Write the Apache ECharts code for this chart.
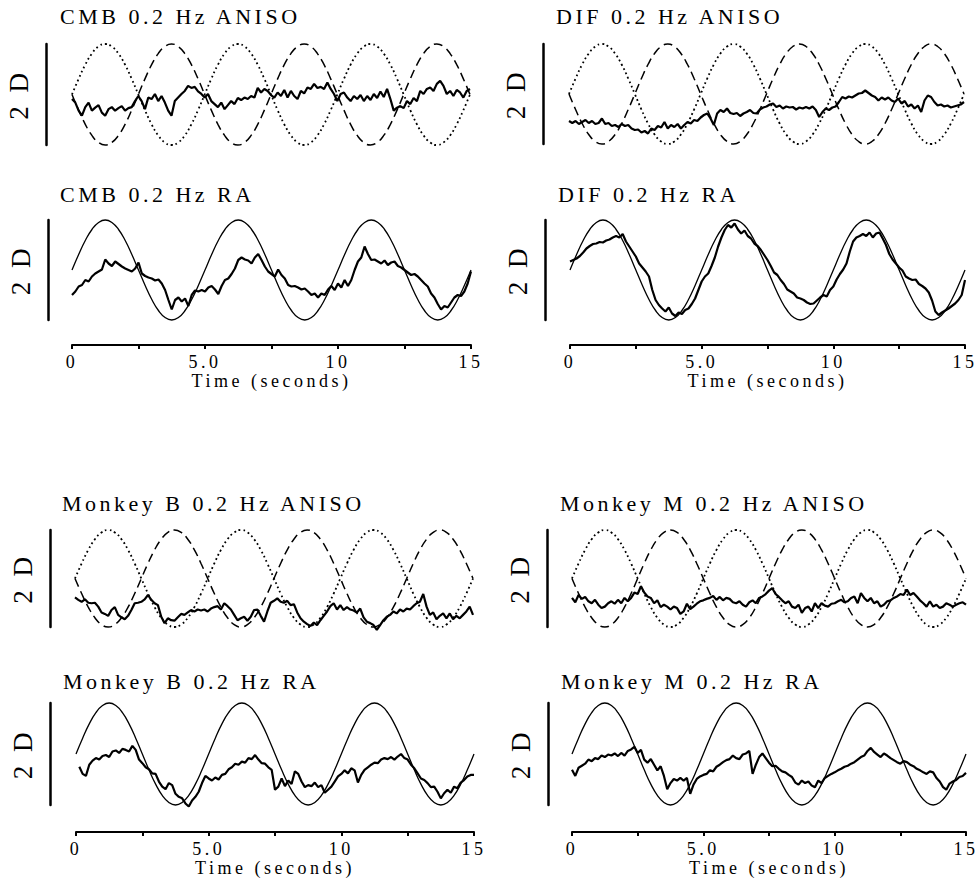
<!DOCTYPE html>
<html>
<head>
<meta charset="utf-8">
<title>0.2 Hz ANISO / RA</title>
<script src="https://cdn.jsdelivr.net/npm/echarts@6/dist/echarts.min.js"></script>
<style>
  html, body { margin: 0; padding: 0; background: #fff; }
  #main { width: 976px; height: 882px; }
  /* the figure uses widely spaced serif lettering */
  #main text { letter-spacing: 3.5px; }
</style>
</head>
<body>
<div id="main"></div>
<script type="text/javascript">
// sample spacing in seconds
var STIM_STEP = 0.25;
var TRACE_STEP = 0.125;

// labels for the ticks at 0, 2.5, 5 ... 15 s
var xTickLabels = ['0', '', '5.0', '', '10', '', '15'];

// stimulus, diopters (+-1 D), read every 0.25 s
var stimulus = [
  0, 0.31, 0.59, 0.81, 0.95, 1, 0.95, 0.81, 0.59, 0.31, 0, -0.31, -0.59, -0.81, -0.95, -1, -0.95, -0.81, -0.59, -0.31,
  0, 0.31, 0.59, 0.81, 0.95, 1, 0.95, 0.81, 0.59, 0.31, 0, -0.31, -0.59, -0.81, -0.95, -1, -0.95, -0.81, -0.59, -0.31,
  0, 0.31, 0.59, 0.81, 0.95, 1, 0.95, 0.81, 0.59, 0.31, 0, -0.31, -0.59, -0.81, -0.95, -1, -0.95, -0.81, -0.59, -0.31, 0
];
// the counter-phase stimulus of the ANISO condition (dashed)
var stimulusAnti = [
  0, -0.31, -0.59, -0.81, -0.95, -1, -0.95, -0.81, -0.59, -0.31, 0, 0.31, 0.59, 0.81, 0.95, 1, 0.95, 0.81, 0.59, 0.31,
  0, -0.31, -0.59, -0.81, -0.95, -1, -0.95, -0.81, -0.59, -0.31, 0, 0.31, 0.59, 0.81, 0.95, 1, 0.95, 0.81, 0.59, 0.31,
  0, -0.31, -0.59, -0.81, -0.95, -1, -0.95, -0.81, -0.59, -0.31, 0, 0.31, 0.59, 0.81, 0.95, 1, 0.95, 0.81, 0.59, 0.31, 0
];

// responses, diopters, read every 0.125 s
var cmbAniso = [
  -0.09, -0.16, -0.32, -0.42, -0.25, -0.16, -0.32, -0.26, -0.21, -0.36,
  -0.42, -0.29, -0.25, -0.32, -0.27, -0.23, -0.32, -0.27, -0.25, -0.13,
  -0.03, -0.13, -0.29, -0.06, -0.09, 0.01, -0.13, -0.03, -0.16, -0.32,
  -0.42, -0.13, -0.06, 0.01, 0.07, 0.17, 0.13, 0.15, 0.06, 0.01,
  -0.06, 0.01, -0.13, -0.19, -0.25, -0.16, -0.29, -0.21, -0.13, -0.19,
  -0.07, -0.11, -0.06, -0.09, -0.03, -0.06, 0.13, 0.04, 0.11, 0.07,
  -0.01, -0.06, 0.04, -0.03, 0.09, -0.06, 0.07, -0.03, -0.09, 0.07,
  0.02, 0.14, 0.11, 0.21, 0.13, 0.15, 0.11, 0.24, 0.11, 0.01,
  -0.13, 0.01, 0.04, -0.06, -0.13, -0.03, -0.09, -0.01, -0.13, -0.03,
  -0.11, 0.01, -0.07, 0.06, -0.05, 0.11, -0.09, -0.32, -0.26, -0.23,
  -0.27, -0.13, -0.19, -0.07, -0.13, 0.07, 0.01, 0.11, 0.14, 0.07,
  0.21, 0.27, 0.17, 0.01, 0.07, -0.03, 0.09, 0.04, -0.06, 0.07, 0.11
];
var cmbRa = [
  -0.50, -0.43, -0.33, -0.30, -0.20, -0.23, -0.13, -0.07, -0.03, 0.01,
  0.21, 0.13, 0.08, 0.17, 0.12, 0.07, 0.03, 0.00, -0.03, 0.03,
  0.15, -0.07, -0.12, -0.15, -0.17, -0.21, -0.19, -0.27, -0.40, -0.60,
  -0.79, -0.60, -0.55, -0.63, -0.57, -0.72, -0.50, -0.41, -0.43, -0.40,
  -0.43, -0.35, -0.32, -0.39, -0.48, -0.32, -0.20, -0.17, -0.08, 0.03,
  0.20, 0.25, 0.21, 0.19, 0.13, 0.25, 0.32, 0.20, 0.07, -0.03,
  -0.08, -0.13, 0.01, -0.10, -0.17, -0.30, -0.33, -0.32, -0.35, -0.39,
  -0.37, -0.43, -0.50, -0.47, -0.55, -0.47, -0.50, -0.39, -0.32, -0.40,
  -0.27, -0.35, -0.20, -0.32, -0.20, 0.00, 0.17, 0.25, 0.47, 0.32,
  0.20, 0.21, 0.17, 0.13, 0.19, 0.10, 0.15, 0.17, 0.08, 0.05,
  0.00, -0.05, -0.10, -0.08, -0.13, -0.20, -0.27, -0.33, -0.47, -0.55,
  -0.68, -0.79, -0.72, -0.75, -0.65, -0.55, -0.50, -0.52, -0.43, -0.27, -0.03
];
var difAniso = [
  -0.54, -0.58, -0.54, -0.60, -0.56, -0.52, -0.58, -0.54, -0.60, -0.58,
  -0.49, -0.60, -0.58, -0.64, -0.62, -0.66, -0.60, -0.64, -0.62, -0.69,
  -0.72, -0.71, -0.77, -0.74, -0.79, -0.69, -0.72, -0.64, -0.67, -0.56,
  -0.69, -0.62, -0.66, -0.60, -0.69, -0.62, -0.56, -0.59, -0.52, -0.54,
  -0.47, -0.42, -0.39, -0.49, -0.62, -0.39, -0.32, -0.36, -0.29, -0.38,
  -0.40, -0.38, -0.44, -0.39, -0.36, -0.32, -0.38, -0.39, -0.31, -0.27,
  -0.25, -0.21, -0.19, -0.26, -0.23, -0.29, -0.25, -0.27, -0.26, -0.31,
  -0.27, -0.29, -0.26, -0.29, -0.25, -0.32, -0.46, -0.36, -0.29, -0.32,
  -0.27, -0.25, -0.16, -0.06, -0.09, -0.05, -0.07, -0.03, 0.01, 0.02,
  0.07, 0.02, -0.03, -0.06, -0.13, -0.07, -0.11, -0.07, -0.13, -0.16,
  -0.09, -0.19, -0.14, -0.25, -0.21, -0.29, -0.23, -0.36, -0.13, -0.03,
  -0.06, -0.16, -0.23, -0.21, -0.25, -0.23, -0.27, -0.25, -0.23, -0.21, -0.16
];
var difRa = [
  0.17, 0.20, 0.23, 0.28, 0.35, 0.43, 0.48, 0.52, 0.53, 0.56,
  0.55, 0.59, 0.61, 0.65, 0.68, 0.65, 0.72, 0.57, 0.47, 0.37,
  0.27, 0.13, 0.05, -0.03, -0.13, -0.40, -0.60, -0.70, -0.77, -0.83,
  -0.75, -0.87, -0.92, -0.85, -0.88, -0.80, -0.77, -0.68, -0.57, -0.40,
  -0.23, -0.13, -0.07, 0.08, 0.25, 0.47, 0.65, 0.80, 0.90, 0.85,
  0.93, 0.81, 0.73, 0.79, 0.68, 0.63, 0.53, 0.48, 0.40, 0.30,
  0.20, 0.08, -0.05, -0.10, -0.20, -0.28, -0.39, -0.43, -0.47, -0.55,
  -0.57, -0.60, -0.65, -0.68, -0.67, -0.61, -0.55, -0.50, -0.53, -0.40,
  -0.33, -0.19, -0.08, 0.01, 0.13, 0.37, 0.57, 0.65, 0.68, 0.72,
  0.68, 0.75, 0.65, 0.73, 0.75, 0.63, 0.50, 0.32, 0.21, 0.13,
  0.05, -0.01, -0.13, -0.17, -0.20, -0.19, -0.28, -0.32, -0.37, -0.45,
  -0.61, -0.83, -0.90, -0.85, -0.81, -0.77, -0.72, -0.67, -0.60, -0.50, -0.20
];
var monkeyBAniso = [
  -0.39, -0.44, -0.48, -0.43, -0.50, -0.51, -0.50, -0.58, -0.70, -0.73,
  -0.77, -0.65, -0.59, -0.75, -0.80, -0.84, -0.77, -0.65, -0.51, -0.50,
  -0.48, -0.43, -0.34, -0.44, -0.51, -0.55, -0.79, -0.92, -0.82, -0.86,
  -0.87, -0.80, -0.73, -0.75, -0.70, -0.65, -0.68, -0.64, -0.66, -0.64,
  -0.68, -0.62, -0.59, -0.57, -0.64, -0.51, -0.57, -0.64, -0.75, -0.86,
  -0.82, -0.79, -0.87, -0.79, -0.65, -0.64, -0.77, -0.89, -0.68, -0.50,
  -0.46, -0.41, -0.48, -0.50, -0.46, -0.55, -0.53, -0.70, -0.82, -0.89,
  -0.94, -0.98, -0.91, -0.96, -0.86, -0.77, -0.68, -0.57, -0.51, -0.64,
  -0.55, -0.65, -0.59, -0.64, -0.66, -0.70, -0.62, -0.80, -0.89, -0.92,
  -0.96, -1.06, -0.96, -0.86, -0.79, -0.75, -0.68, -0.72, -0.64, -0.68,
  -0.62, -0.64, -0.57, -0.51, -0.48, -0.32, -0.58, -0.75, -0.70, -0.84,
  -0.77, -0.72, -0.82, -0.72, -0.84, -0.77, -0.82, -0.75, -0.68, -0.58, -0.75
];
var monkeyBRa = [
  null, -0.25, -0.39, -0.43, -0.21, -0.13, -0.08, -0.11, -0.04, -0.02,
  -0.06, 0.05, 0.07, 0.02, 0.10, 0.08, 0.05, 0.16, 0.08, -0.11,
  -0.18, -0.26, -0.30, -0.38, -0.39, -0.54, -0.64, -0.69, -0.57, -0.61,
  -0.78, -0.84, -0.87, -0.97, -1.03, -0.91, -0.84, -0.74, -0.57, -0.43,
  -0.48, -0.52, -0.46, -0.50, -0.41, -0.39, -0.30, -0.26, -0.19, -0.21,
  -0.15, -0.17, -0.08, -0.10, -0.02, -0.11, -0.18, -0.19, -0.26, -0.31,
  -0.70, -0.64, -0.48, -0.63, -0.52, -0.59, -0.34, -0.39, -0.54, -0.65,
  -0.61, -0.63, -0.56, -0.65, -0.61, -0.76, -0.70, -0.64, -0.54, -0.44,
  -0.39, -0.32, -0.38, -0.28, -0.32, -0.56, -0.41, -0.31, -0.26, -0.21,
  -0.17, -0.18, -0.11, -0.08, -0.10, -0.06, -0.11, -0.05, 0.00, -0.08,
  -0.11, -0.21, -0.28, -0.38, -0.48, -0.51, -0.57, -0.65, -0.64, -0.74,
  -0.87, -0.77, -0.70, -0.76, -0.64, -0.67, -0.56, -0.51, -0.44, -0.41, -0.41
];
var monkeyMAniso = [
  -0.40, -0.49, -0.34, -0.42, -0.38, -0.47, -0.51, -0.44, -0.54, -0.61,
  -0.58, -0.51, -0.47, -0.52, -0.44, -0.51, -0.40, -0.47, -0.40, -0.29,
  -0.32, -0.16, -0.29, -0.37, -0.40, -0.51, -0.45, -0.59, -0.54, -0.58,
  -0.64, -0.58, -0.61, -0.73, -0.68, -0.52, -0.63, -0.58, -0.52, -0.47,
  -0.45, -0.42, -0.40, -0.36, -0.44, -0.38, -0.45, -0.40, -0.42, -0.49,
  -0.51, -0.47, -0.54, -0.58, -0.49, -0.45, -0.51, -0.40, -0.37, -0.32,
  -0.25, -0.20, -0.32, -0.38, -0.45, -0.51, -0.47, -0.58, -0.61, -0.54,
  -0.71, -0.61, -0.58, -0.68, -0.51, -0.61, -0.51, -0.56, -0.58, -0.52,
  -0.51, -0.47, -0.44, -0.49, -0.47, -0.40, -0.37, -0.51, -0.30, -0.40,
  -0.47, -0.40, -0.51, -0.47, -0.58, -0.54, -0.47, -0.45, -0.40, -0.37,
  -0.32, -0.34, -0.23, -0.34, -0.30, -0.37, -0.45, -0.51, -0.58, -0.47,
  -0.58, -0.54, -0.61, -0.58, -0.51, -0.54, -0.58, -0.54, -0.51, -0.49, -0.54
];
var monkeyMRa = [
  -0.31, -0.43, -0.27, -0.23, -0.19, -0.11, -0.14, -0.08, -0.10, -0.03,
  -0.06, -0.01, -0.03, 0.01, -0.04, 0.02, -0.03, 0.06, 0.09, 0.14,
  0.02, 0.08, -0.11, -0.17, -0.10, -0.21, -0.32, -0.24, -0.43, -0.69,
  -0.57, -0.49, -0.52, -0.47, -0.52, -0.47, -0.78, -0.60, -0.49, -0.44,
  -0.41, -0.39, -0.32, -0.34, -0.25, -0.21, -0.16, -0.12, -0.10, -0.03,
  -0.08, -0.10, -0.01, 0.01, 0.06, -0.39, -0.21, -0.06, 0.01, -0.08,
  -0.17, -0.24, -0.23, -0.29, -0.34, -0.36, -0.41, -0.45, -0.56, -0.60,
  -0.52, -0.57, -0.54, -0.62, -0.65, -0.52, -0.57, -0.47, -0.43, -0.39,
  -0.36, -0.32, -0.29, -0.25, -0.23, -0.19, -0.16, -0.11, -0.06, -0.03,
  0.06, 0.12, 0.04, -0.01, -0.06, 0.01, -0.03, -0.08, -0.12, -0.16,
  -0.19, -0.14, -0.16, -0.21, -0.24, -0.29, -0.32, -0.36, -0.39, -0.34,
  -0.36, -0.47, -0.54, -0.65, -0.70, -0.58, -0.54, -0.51, -0.45, -0.43, -0.37
];

// panel layout (pixels)
var panels = [
  { title: 'CMB 0.2 Hz ANISO', trace: cmbAniso, aniso: true,
    grid: { left: 72, top: 44, width: 398, height: 101 }, titleAt: [60, 5], bar: 26 },
  { title: 'CMB 0.2 Hz RA', trace: cmbRa, aniso: false,
    grid: { left: 72, top: 220, width: 399, height: 100 }, titleAt: [60, 183], bar: 24, axisGap: 25 },
  { title: 'DIF 0.2 Hz ANISO', trace: difAniso, aniso: true,
    grid: { left: 569, top: 44, width: 395, height: 100 }, titleAt: [556, 5], bar: 26 },
  { title: 'DIF 0.2 Hz RA', trace: difRa, aniso: false,
    grid: { left: 570, top: 220, width: 395, height: 100 }, titleAt: [558, 183], bar: 25, axisGap: 25 },
  { title: 'Monkey B 0.2 Hz ANISO', trace: monkeyBAniso, aniso: true,
    grid: { left: 75, top: 530, width: 398, height: 97 }, titleAt: [62, 492], bar: 25 },
  { title: 'Monkey B 0.2 Hz RA', trace: monkeyBRa, aniso: false,
    grid: { left: 76, top: 703, width: 398, height: 102 }, titleAt: [63, 670], bar: 26, axisGap: 27 },
  { title: 'Monkey M 0.2 Hz ANISO', trace: monkeyMAniso, aniso: true,
    grid: { left: 572, top: 530, width: 394, height: 97 }, titleAt: [560, 492], bar: 25 },
  { title: 'Monkey M 0.2 Hz RA', trace: monkeyMRa, aniso: false,
    grid: { left: 572, top: 703, width: 394, height: 102 }, titleAt: [561, 670], bar: 24, axisGap: 27 }
];

var FONT = 'Liberation Serif';

function pairs(values, step) {
  return values.map(function (v, i) { return [i * step, v]; });
}

var option = {
  animation: false,
  backgroundColor: '#fff',
  title: [],
  grid: [],
  xAxis: [],
  yAxis: [],
  series: []
};

panels.forEach(function (p, i) {
  option.title.push({
    text: p.title, left: p.titleAt[0], top: p.titleAt[1], padding: 0,
    textStyle: { fontFamily: FONT, fontSize: 22, fontWeight: 'normal', color: '#000' }
  });
  option.grid.push({
    left: p.grid.left, top: p.grid.top, width: p.grid.width, height: p.grid.height,
    outerBoundsMode: 'none'
  });

  var x = {
    gridIndex: i, type: 'value', min: 0, max: 15, interval: 2.5,
    splitLine: { show: false }
  };
  if (p.aniso) {
    x.show = false;
  } else {
    x.position = 'bottom';
    x.offset = p.axisGap;
    x.axisLine = { show: true, onZero: false, lineStyle: { color: '#000', width: 2 } };
    x.axisTick = { show: true, length: 4, lineStyle: { color: '#000', width: 2 } };
    x.axisLabel = {
      margin: 8, color: '#000', fontFamily: FONT, fontSize: 18,
      formatter: function (v) { return xTickLabels[Math.round(v / 2.5)]; }
    };
    x.name = 'Time (seconds)';
    x.nameLocation = 'middle';
    x.nameGap = 25;
    x.nameTextStyle = { color: '#000', fontFamily: FONT, fontSize: 18 };
  }
  option.xAxis.push(x);

  option.yAxis.push({
    gridIndex: i, type: 'value', min: -1, max: 1, position: 'left', offset: p.bar,
    axisLine: { show: true, onZero: false, lineStyle: { color: '#000', width: 2.5 } },
    axisTick: { show: false }, axisLabel: { show: false }, splitLine: { show: false },
    name: '2 D', nameLocation: 'middle', nameGap: 14, nameRotate: 90,
    nameTextStyle: { color: '#000', fontFamily: FONT, fontSize: 27 }
  });

  if (p.aniso) {
    option.series.push({
      type: 'line', xAxisIndex: i, yAxisIndex: i, data: pairs(stimulus, STIM_STEP),
      showSymbol: false, smooth: true, silent: true, clip: false,
      lineStyle: { color: '#000', width: 1.8, type: [1.8, 3] }
    });
    option.series.push({
      type: 'line', xAxisIndex: i, yAxisIndex: i, data: pairs(stimulusAnti, STIM_STEP),
      showSymbol: false, smooth: true, silent: true, clip: false,
      lineStyle: { color: '#000', width: 1.5, type: [9, 5] }
    });
  } else {
    option.series.push({
      type: 'line', xAxisIndex: i, yAxisIndex: i, data: pairs(stimulus, STIM_STEP),
      showSymbol: false, smooth: true, silent: true, clip: false,
      lineStyle: { color: '#000', width: 1.3 }
    });
  }
  option.series.push({
    type: 'line', xAxisIndex: i, yAxisIndex: i, data: pairs(p.trace, TRACE_STEP),
    showSymbol: false, silent: true, clip: false, connectNulls: false,
    lineStyle: { color: '#000', width: 2.2 }
  });
});

var myChart = echarts.init(document.getElementById('main'), null, { renderer: 'svg' });
myChart.setOption(option);
</script>
</body>
</html>
